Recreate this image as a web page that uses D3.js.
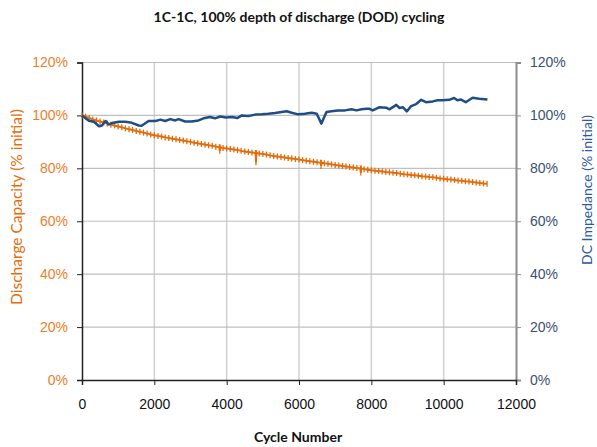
<!DOCTYPE html>
<html>
<head>
<meta charset="utf-8">
<script src="https://cdn.jsdelivr.net/npm/d3@7"></script>
<style>
  body { margin: 0; background: #fff; }
  svg { font-family: Lato, "Open Sans", sans-serif; }
</style>
</head>
<body>
<svg id="chart" width="597" height="447"></svg>
<script>
// capacity readings (cycle, % initial); the odd low readings sit just after a regular one
let capCycles = [
  0, 100, 200, 300, 400, 500, 600, 700, 800, 900,
  1000, 1100, 1200, 1300, 1400, 1500, 1600, 1700, 1800, 1900,
  2000, 2100, 2200, 2300, 2400, 2500, 2600, 2700, 2800, 2900,
  3000, 3100, 3200, 3300, 3400, 3500, 3600, 3700, 3800, 3810, 3820, 3900,
  4000, 4100, 4200, 4300, 4400, 4500, 4600, 4700, 4800, 4810, 4820, 4900,
  5000, 5100, 5200, 5300, 5400, 5500, 5600, 5700, 5800, 5900,
  6000, 6100, 6200, 6300, 6400, 6500, 6600, 6610, 6620, 6700, 6800, 6900,
  7000, 7100, 7200, 7300, 7400, 7500, 7600, 7700, 7710, 7720, 7800, 7900,
  8000, 8100, 8200, 8300, 8400, 8500, 8600, 8700, 8800, 8900,
  9000, 9100, 9200, 9300, 9400, 9500, 9600, 9700, 9800, 9900,
  10000, 10100, 10200, 10300, 10400, 10500, 10600, 10700, 10800, 10900,
  11000, 11100, 11200
];
let capValues = [
  100, 99.5, 99.0, 98.5, 98.1, 97.7, 97.3, 96.9, 96.5, 96.2,
  95.8, 95.5, 95.1, 94.8, 94.5, 94.1, 93.8, 93.5, 93.2, 92.8,
  92.5, 92.2, 92.0, 91.7, 91.5, 91.2, 91.0, 90.7, 90.5, 90.2,
  90.0, 89.7, 89.5, 89.2, 89.0, 88.7, 88.5, 88.2, 88.0, 86.6, 87.9, 87.7,
  87.5, 87.3, 87.1, 86.9, 86.6, 86.4, 86.2, 86.0, 85.8, 82.3, 85.8, 85.6,
  85.4, 85.2, 84.9, 84.7, 84.5, 84.3, 84.1, 83.9, 83.7, 83.5,
  83.3, 83.1, 82.9, 82.7, 82.5, 82.3, 82.1, 80.9, 82.1, 81.9, 81.7, 81.5,
  81.3, 81.1, 80.9, 80.7, 80.5, 80.3, 80.1, 79.9, 78.4, 79.9, 79.7, 79.5,
  79.3, 79.1, 79.0, 78.8, 78.6, 78.5, 78.3, 78.2, 78.0, 77.8,
  77.7, 77.5, 77.4, 77.2, 77.0, 76.9, 76.7, 76.6, 76.4, 76.2,
  76.1, 75.9, 75.8, 75.6, 75.4, 75.3, 75.1, 75.0, 74.8, 74.6,
  74.5, 74.3, 74.2
];

let impCycles = [
  0, 190, 330, 470, 550, 650, 740, 830, 1020, 1200,
  1380, 1570, 1650, 1840, 2030, 2170, 2300, 2440, 2580, 2670,
  2850, 3030, 3220, 3360, 3540, 3680, 3820, 3980, 4150, 4290,
  4420, 4600, 4790, 4970, 5150, 5340, 5520, 5660, 5800, 5980,
  6160, 6350, 6490, 6620, 6760, 6900, 7080, 7270, 7450, 7590,
  7730, 7860, 7950, 8040, 8230, 8410, 8500, 8690, 8780, 8870,
  8980, 9100, 9240, 9380, 9510, 9700, 9830, 9970, 10150, 10290,
  10380, 10480, 10610, 10800, 10980, 11210
];
let impValues = [
  100.0, 98.0, 97.6, 95.9, 96.2, 97.9, 96.6, 97.1, 97.6, 97.6,
  97.2, 96.2, 96.1, 97.9, 97.9, 98.4, 97.9, 98.6, 98.1, 98.6,
  97.7, 97.7, 98.1, 98.9, 99.4, 98.9, 99.6, 99.2, 99.4, 99.0,
  100.0, 99.8, 100.3, 100.4, 100.6, 100.9, 101.3, 101.6, 101.0, 100.4,
  100.6, 101.0, 100.6, 96.9, 101.3, 101.6, 101.9, 101.9, 102.3, 101.9,
  102.3, 102.5, 102.5, 101.9, 103.1, 102.9, 102.3, 104.0, 102.8, 103.1,
  101.5, 103.5, 104.3, 105.9, 105.0, 105.3, 105.7, 105.7, 105.9, 106.6,
  105.7, 106.0, 105.0, 106.7, 106.3, 106.0
];

let xTicks = [0, 2000, 4000, 6000, 8000, 10000, 12000];
let yTicks = [0, 20, 40, 60, 80, 100, 120];

const orange = "#e46c0a";
const blue = "#1f4e86";

let svg = d3.select("#chart");
let margin = { top: 62.5, right: 81, bottom: 67, left: 82 };
let width = +svg.attr("width") - margin.left - margin.right;
let height = +svg.attr("height") - margin.top - margin.bottom;

let g = svg.append("g")
  .attr("transform", "translate(" + margin.left + "," + margin.top + ")");

let x = d3.scaleLinear().domain([0, 12000]).range([0, width]);
let y = d3.scaleLinear().domain([0, 120]).range([height, 0]);

// gridlines
g.append("g")
  .selectAll("line")
  .data(xTicks.slice(1, -1))
  .enter()
  .append("line")
  .attr("x1", (d) => x(d)).attr("x2", (d) => x(d))
  .attr("y1", 0).attr("y2", height)
  .attr("stroke", "#d0d0d0").attr("stroke-width", 1.5);

g.append("g")
  .selectAll("line")
  .data(yTicks.slice(1))
  .enter()
  .append("line")
  .attr("x1", 0).attr("x2", width)
  .attr("y1", (d) => y(d)).attr("y2", (d) => y(d))
  .attr("stroke", "#c0c0c0").attr("stroke-width", 1.2);

// right axis (gray)
let yRight = g.append("g")
  .attr("transform", "translate(" + width + ",0)")
  .call(d3.axisRight(y).tickValues(yTicks).tickFormat((d) => d + "%").tickSize(5).tickPadding(9));
yRight.select(".domain").attr("stroke", "#8c8c8c").attr("stroke-width", 2);
yRight.selectAll(".tick line").attr("stroke", "#8c8c8c");
yRight.selectAll("text").attr("fill", "#3b5070").style("font-size", "14px");

// left axis
let yLeft = g.append("g")
  .call(d3.axisLeft(y).tickValues(yTicks).tickFormat((d) => d + "%").tickSize(5).tickPadding(9));
yLeft.select(".domain").attr("stroke", "#222").attr("stroke-width", 1.5);
yLeft.selectAll(".tick line").attr("stroke", "#222");
yLeft.selectAll("text").attr("fill", "#ee7d2a").style("font-size", "14px");

// x axis
let xAxis = g.append("g")
  .attr("transform", "translate(0," + height + ")")
  .call(d3.axisBottom(x).tickValues(xTicks).tickFormat(d3.format("d")).tickSize(5).tickPadding(14));
xAxis.select(".domain").attr("stroke", "#222").attr("stroke-width", 1.5);
xAxis.selectAll(".tick line").attr("stroke", "#222");
xAxis.selectAll("text").attr("fill", "#111").style("font-size", "14px");

// discharge capacity line + tick markers
let capData = capCycles.map((c, i) => ({ c: c, v: capValues[i] }));
let capLine = d3.line().x((d) => x(d.c)).y((d) => y(d.v));

g.append("path")
  .datum(capData)
  .attr("fill", "none")
  .attr("stroke", orange)
  .attr("stroke-width", 2)
  .attr("d", capLine);

g.append("g")
  .selectAll("line")
  .data(capData)
  .enter()
  .append("line")
  .attr("x1", (d) => x(d.c)).attr("x2", (d) => x(d.c))
  .attr("y1", (d) => y(d.v) - 3).attr("y2", (d) => y(d.v) + 3)
  .attr("stroke", orange)
  .attr("stroke-width", 1.3);

// dc impedance line
let impData = impCycles.map((c, i) => ({ c: c, v: impValues[i] }));
g.append("path")
  .datum(impData)
  .attr("fill", "none")
  .attr("stroke", blue)
  .attr("stroke-width", 2.5)
  .attr("stroke-linejoin", "round")
  .attr("d", d3.line().x((d) => x(d.c)).y((d) => y(d.v)));

// titles
svg.append("text")
  .attr("x", 299).attr("y", 22)
  .style("text-anchor", "middle")
  .style("font-size", "14px")
  .style("font-weight", "bold")
  .attr("fill", "#111")
  .text("1C-1C, 100% depth of discharge (DOD) cycling");

svg.append("text")
  .attr("x", 298).attr("y", 442)
  .style("text-anchor", "middle")
  .style("font-size", "14px")
  .style("font-weight", "bold")
  .attr("fill", "#111")
  .text("Cycle Number");

svg.append("text")
  .attr("transform", "translate(22,207) rotate(-90)")
  .style("text-anchor", "middle")
  .style("font-size", "15.5px")
  .attr("fill", orange)
  .text("Discharge Capacity (% initial)");

svg.append("text")
  .attr("transform", "translate(592,190) rotate(-90)")
  .style("text-anchor", "middle")
  .style("font-size", "14px")
  .attr("fill", "#2a5aa0")
  .text("DC Impedance (% initial)");
</script>
</body>
</html>
